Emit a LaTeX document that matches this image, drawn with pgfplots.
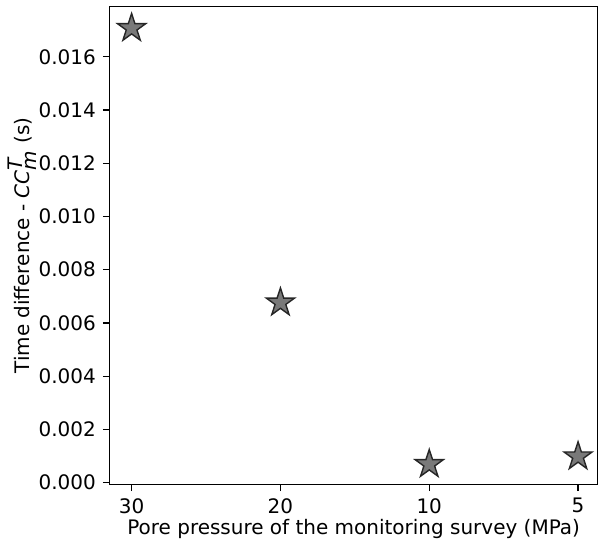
\documentclass[border=0pt]{standalone}
\usepackage{fontspec}
\setmainfont{DejaVu Sans}
\usepackage{pgfplots}
\pgfplotsset{compat=1.18}
\pgfdeclareplotmark{fstar}{%
  \pgfpathmoveto{\pgfpointpolar{90}{\pgfplotmarksize}}%
  \pgfpathlineto{\pgfpointpolar{126}{0.382\pgfplotmarksize}}%
  \pgfpathlineto{\pgfpointpolar{162}{\pgfplotmarksize}}%
  \pgfpathlineto{\pgfpointpolar{198}{0.382\pgfplotmarksize}}%
  \pgfpathlineto{\pgfpointpolar{234}{\pgfplotmarksize}}%
  \pgfpathlineto{\pgfpointpolar{270}{0.382\pgfplotmarksize}}%
  \pgfpathlineto{\pgfpointpolar{306}{\pgfplotmarksize}}%
  \pgfpathlineto{\pgfpointpolar{342}{0.382\pgfplotmarksize}}%
  \pgfpathlineto{\pgfpointpolar{18}{\pgfplotmarksize}}%
  \pgfpathlineto{\pgfpointpolar{54}{0.382\pgfplotmarksize}}%
  \pgfpathclose
  \pgfusepathqfillstroke}
\begin{document}
\begin{tikzpicture}
\begin{axis}[
  name=ax,
  scale only axis,
  width=244pt, height=239pt,
  xmin=-0.146, xmax=3.13,
  ymin=-0.00006, ymax=0.01788,
  xtick={0,1,2,3},
  xticklabels={30,20,10,5},
  ytick={0,0.002,0.004,0.006,0.008,0.010,0.012,0.014,0.016},
  yticklabel style={/pgf/number format/.cd,fixed,fixed zerofill,precision=3},
  scaled y ticks=false,
  /pgf/number format/assume math mode=true,
  tick align=outside,
  major tick length=3.5pt,
  xtick pos=bottom, ytick pos=left,
  tick style={black, line width=0.6pt},
  axis line style={line width=0.6pt},
  ticklabel style={font=\fontsize{10}{12}\selectfont},
  label style={font=\fontsize{10}{12}\selectfont},
  xlabel={Pore pressure of the monitoring survey (MPa)},
  ylabel={Time difference - \textit{CC}$_{\textit{m}}^{\textit{T}}$ (s)},
  xlabel style={yshift=4pt},
  ylabel style={yshift=-6pt},
]
\addplot[only marks, mark=fstar, mark size=7.4pt,
  mark options={fill=gray!95!black, draw=black!85, line width=0.7pt, solid, line join=miter}]
  coordinates {(0,0.01707) (1,0.00676) (2,0.00069) (3,0.00098)};
\end{axis}
\pgfresetboundingbox
\path ([xshift=-55pt,yshift=-29pt]ax.south west) rectangle ([xshift=0.3pt,yshift=3.35pt]ax.north east);
\end{tikzpicture}
\end{document}
